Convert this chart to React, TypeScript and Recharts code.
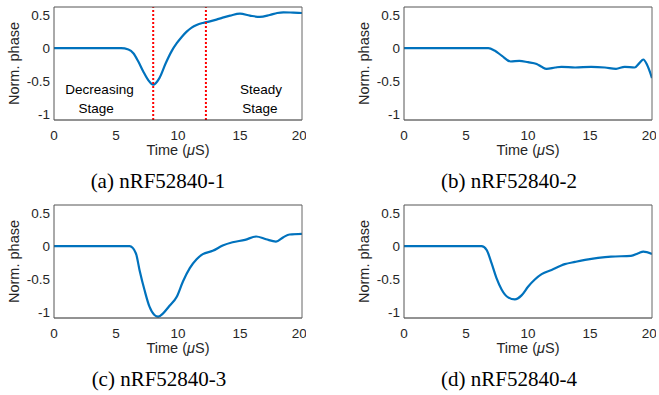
import React from "react";
import {
  LineChart,
  Line,
  XAxis,
  YAxis,
  ReferenceLine,
  ReferenceDot,
  Label,
} from "recharts";

const timeTicks = [0, 5, 10, 15, 20];
const phaseTicks = [-1, -0.5, 0, 0.5];
const phaseDomain = [-1.08, 0.62];

// (a) nRF52840-1
const timeA = [0, 5.4, 6.0, 6.4, 6.8, 7.2, 7.6, 8.0, 8.5, 9.0, 9.5, 9.9, 10.3, 10.7, 11.1, 11.5, 12.0, 12.5, 13.1, 13.6, 14.2, 15.0, 15.8, 16.6, 17.4, 18.0, 18.5, 19.3, 20];
const phaseA = [0, 0, -0.02, -0.075, -0.2, -0.35, -0.48, -0.55, -0.45, -0.23, -0.04, 0.075, 0.17, 0.25, 0.31, 0.35, 0.38, 0.4, 0.43, 0.46, 0.49, 0.52, 0.49, 0.47, 0.5, 0.53, 0.54, 0.535, 0.53];

// (b) nRF52840-2
const timeB = [0, 5, 6.8, 7.3, 7.9, 8.6, 9.3, 10.0, 10.7, 11.1, 11.5, 12.2, 12.7, 13.8, 15.1, 16.2, 17.1, 17.8, 18.6, 19.0, 19.3, 19.6, 20];
const phaseB = [0, 0, 0, -0.035, -0.115, -0.2, -0.19, -0.21, -0.236, -0.28, -0.31, -0.29, -0.28, -0.29, -0.28, -0.29, -0.31, -0.28, -0.29, -0.22, -0.17, -0.25, -0.45];

// (c) nRF52840-3
const timeC = [0, 6.1, 6.6, 6.9, 7.3, 7.7, 8.1, 8.4, 8.8, 9.3, 9.9, 10.4, 10.95, 11.5, 12.0, 12.8, 13.6, 14.4, 15.4, 16.3, 17.1, 17.9, 18.5, 19.0, 20];
const phaseC = [0, 0, -0.105, -0.36, -0.66, -0.91, -1.035, -1.06, -1.01, -0.9, -0.76, -0.53, -0.33, -0.196, -0.12, -0.07, 0.01, 0.06, 0.095, 0.146, 0.105, 0.07, 0.136, 0.176, 0.186];

// (d) nRF52840-4
const timeD = [0, 6.25, 6.66, 7.06, 7.46, 7.87, 8.4, 8.94, 9.48, 10.0, 10.55, 11.1, 11.9, 12.97, 13.8, 14.6, 15.65, 16.7, 18.3, 18.9, 19.3, 20];
const phaseD = [0, 0, -0.055, -0.256, -0.48, -0.65, -0.77, -0.8, -0.74, -0.61, -0.5, -0.42, -0.357, -0.27, -0.236, -0.206, -0.176, -0.156, -0.146, -0.106, -0.08, -0.116];

const captions = ["(a) nRF52840-1", "(b) nRF52840-2", "(c) nRF52840-3", "(d) nRF52840-4"];

// stage boundaries in (a)
const stageBounds = [8, 12.25];
const stageText = [
  { t: 3.67, v: -0.62, text: "Decreasing" },
  { t: 3.4, v: -0.9, text: "Stage" },
  { t: 16.69, v: -0.62, text: "Steady" },
  { t: 16.6, v: -0.9, text: "Stage" },
];

const toRows = (ts: number[], vs: number[]) => ts.map((t, i) => ({ t, v: vs[i] }));

const AXIS = "#262626";
const BLUE = "#0072BD";

const TimeLabel = (props: any) => {
  const { x, y, width } = props.viewBox;
  return (
    <text x={x + width / 2} y={y + 35} textAnchor="middle" fontSize={14.5} fill={AXIS}>
      Time (<tspan fontStyle="italic">μ</tspan>S)
    </text>
  );
};

const PhaseLabel = (props: any) => {
  const { x, y, width, height } = props.viewBox;
  const cx = x + width - 35.5;
  const cy = y + height / 2;
  return (
    <text x={cx} y={cy} transform={`rotate(-90, ${cx}, ${cy})`} textAnchor="middle" fontSize={14.5} fill={AXIS}>
      Norm. phase
    </text>
  );
};

function Panel({
  left,
  top,
  yAxisWidth,
  rows,
  caption,
  captionX,
  stages,
}: {
  left: number;
  top: number;
  yAxisWidth: number;
  rows: { t: number; v: number }[];
  caption: string;
  captionX: number;
  stages?: boolean;
}) {
  return (
    <>
      <div style={{ position: "absolute", left, top }}>
        <LineChart
          width={yAxisWidth + 248 + 4}
          height={165}
          data={rows}
          margin={{ top: 7, right: 4, bottom: 0, left: 0 }}
          style={{ fontFamily: "'Liberation Sans', Arial, sans-serif" }}
        >
          <XAxis
            xAxisId="b"
            dataKey="t"
            type="number"
            domain={[0, 20]}
            ticks={timeTicks}
            allowDataOverflow
            height={45}
            tickLine={false}
            tickSize={0}
            tickMargin={10}
            tick={{ fill: AXIS, fontSize: 13.5 }}
            axisLine={{ stroke: AXIS, strokeWidth: 1 }}
          >
            <Label content={TimeLabel} />
          </XAxis>
          <XAxis
            xAxisId="bm"
            dataKey="t"
            type="number"
            domain={[0, 20]}
            ticks={timeTicks}
            allowDataOverflow
            mirror
            tick={false}
            tickSize={3}
            tickLine={{ stroke: AXIS }}
            axisLine={false}
          />
          <XAxis
            xAxisId="tm"
            dataKey="t"
            type="number"
            orientation="top"
            domain={[0, 20]}
            ticks={timeTicks}
            allowDataOverflow
            mirror
            tick={false}
            tickSize={3}
            tickLine={{ stroke: AXIS }}
            axisLine={{ stroke: "#555", strokeWidth: 1 }}
          />
          <YAxis
            yAxisId="l"
            type="number"
            domain={phaseDomain}
            ticks={phaseTicks}
            allowDataOverflow
            width={yAxisWidth}
            tickLine={false}
            tickSize={0}
            tickMargin={4}
            tick={{ fill: AXIS, fontSize: 13.5 }}
            axisLine={{ stroke: "#555", strokeWidth: 1 }}
          >
            <Label content={PhaseLabel} />
          </YAxis>
          <YAxis
            yAxisId="lm"
            type="number"
            domain={phaseDomain}
            ticks={phaseTicks}
            allowDataOverflow
            mirror
            tick={false}
            tickSize={3}
            tickLine={{ stroke: AXIS }}
            axisLine={false}
          />
          <YAxis
            yAxisId="rm"
            type="number"
            orientation="right"
            domain={phaseDomain}
            ticks={phaseTicks}
            allowDataOverflow
            mirror
            tick={false}
            tickSize={3}
            tickLine={{ stroke: AXIS }}
            axisLine={{ stroke: "#666", strokeWidth: 1 }}
          />
          <Line
            xAxisId="b"
            yAxisId="l"
            dataKey="v"
            type="monotone"
            stroke={BLUE}
            strokeWidth={2.2}
            dot={false}
            isAnimationActive={false}
          />
          {stages &&
            stageBounds.map((x) => (
              <ReferenceLine
                key={x}
                xAxisId="b"
                yAxisId="l"
                x={x}
                stroke="#FF0000"
                strokeWidth={2}
                strokeDasharray="2 2"
              />
            ))}
          {stages &&
            stageText.map((s, i) => (
              <ReferenceDot
                key={i}
                xAxisId="b"
                yAxisId="l"
                x={s.t}
                y={s.v}
                r={1}
                fill="none"
                stroke="none"
                label={{ value: s.text, position: "center", fill: "#000", fontSize: 13.5 }}
              />
            ))}
        </LineChart>
      </div>
      <div
        style={{
          position: "absolute",
          left: captionX - 100,
          top: top + 171,
          width: 200,
          textAlign: "center",
          fontFamily: "'Liberation Serif', 'Times New Roman', serif",
          fontSize: 21,
          lineHeight: "21px",
          color: "#000",
          whiteSpace: "nowrap",
        }}
      >
        {caption}
      </div>
    </>
  );
}

export default function App() {
  return (
    <div
      style={{
        position: "absolute",
        left: 0,
        top: 0,
        width: 659,
        height: 395,
        background: "#fff",
        overflow: "hidden",
      }}
    >
      <Panel left={0} top={0} yAxisWidth={54} rows={toRows(timeA, phaseA)} caption={captions[0]} captionX={158} stages />
      <Panel left={330} top={0} yAxisWidth={74} rows={toRows(timeB, phaseB)} caption={captions[1]} captionX={509} />
      <Panel left={0} top={198} yAxisWidth={54} rows={toRows(timeC, phaseC)} caption={captions[2]} captionX={159} />
      <Panel left={330} top={198} yAxisWidth={74} rows={toRows(timeD, phaseD)} caption={captions[3]} captionX={509} />
    </div>
  );
}
